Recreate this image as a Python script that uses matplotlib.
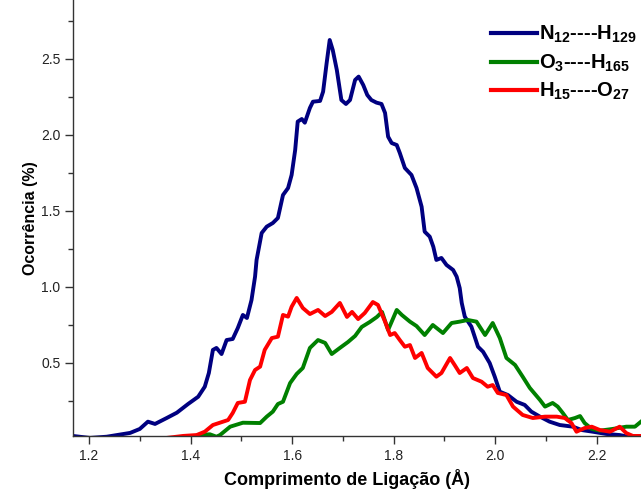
import matplotlib
matplotlib.use("Agg")
import matplotlib.pyplot as plt
from matplotlib.ticker import MultipleLocator

plt.rcParams['font.family'] = ['Liberation Sans', 'DejaVu Sans']
plt.rcParams['mathtext.fontset'] = 'custom'
plt.rcParams['mathtext.rm'] = 'Liberation Sans:bold'
plt.rcParams['mathtext.bf'] = 'Liberation Sans:bold'
plt.rcParams['mathtext.default'] = 'bf'

# N12----H129 (blue)
x_n12 = [1.168, 1.202, 1.235, 1.281, 1.300, 1.316, 1.330, 1.353, 1.373, 1.395, 1.415, 1.428,
         1.436, 1.444, 1.451, 1.461, 1.471, 1.483, 1.493, 1.503, 1.511, 1.520, 1.527, 1.530,
         1.540, 1.550, 1.562, 1.572, 1.582, 1.592, 1.599, 1.606, 1.611, 1.619, 1.625, 1.635,
         1.641, 1.655, 1.661, 1.668, 1.674, 1.680, 1.688, 1.697, 1.706, 1.714, 1.724, 1.731,
         1.740, 1.748, 1.756, 1.766, 1.776, 1.783, 1.789, 1.796, 1.806, 1.812, 1.822, 1.835,
         1.845, 1.855, 1.861, 1.871, 1.878, 1.884, 1.894, 1.904, 1.917, 1.924, 1.930, 1.934,
         1.940, 1.953, 1.966, 1.976, 1.989, 1.999, 2.009, 2.025, 2.042, 2.058, 2.071, 2.088,
         2.107, 2.127, 2.153, 2.170, 2.192, 2.219, 2.245, 2.265, 2.287]
y_n12 = [0.020, 0.007, 0.015, 0.040, 0.066, 0.114, 0.099, 0.138, 0.173, 0.230, 0.278, 0.344,
         0.434, 0.586, 0.599, 0.559, 0.651, 0.658, 0.730, 0.816, 0.796, 0.914, 1.068, 1.178,
         1.355, 1.397, 1.421, 1.454, 1.605, 1.651, 1.737, 1.901, 2.088, 2.105, 2.081, 2.178,
         2.219, 2.224, 2.285, 2.474, 2.625, 2.559, 2.428, 2.230, 2.204, 2.230, 2.362, 2.384,
         2.329, 2.263, 2.230, 2.213, 2.204, 2.145, 1.989, 1.947, 1.934, 1.882, 1.783, 1.737,
         1.651, 1.528, 1.364, 1.331, 1.265, 1.178, 1.191, 1.145, 1.112, 1.068, 0.993, 0.895,
         0.805, 0.739, 0.607, 0.574, 0.500, 0.410, 0.311, 0.289, 0.245, 0.224, 0.180, 0.147,
         0.114, 0.092, 0.081, 0.059, 0.048, 0.033, 0.026, 0.013, 0.007]

# O3----H165 (green)
x_o3 = [1.400, 1.415, 1.438, 1.451, 1.458, 1.478, 1.503, 1.537, 1.550, 1.562, 1.572, 1.582,
        1.596, 1.609, 1.621, 1.635, 1.651, 1.665, 1.678, 1.694, 1.710, 1.724, 1.737, 1.753,
        1.767, 1.777, 1.789, 1.806, 1.816, 1.832, 1.845, 1.861, 1.877, 1.897, 1.914, 1.930,
        1.946, 1.963, 1.980, 1.995, 2.009, 2.022, 2.039, 2.054, 2.068, 2.088, 2.098, 2.113,
        2.123, 2.133, 2.143, 2.157, 2.167, 2.176, 2.190, 2.206, 2.231, 2.258, 2.275, 2.287]
y_o3 = [0.005, 0.026, 0.031, 0.015, 0.026, 0.081, 0.107, 0.105, 0.147, 0.180, 0.230, 0.245,
        0.368, 0.428, 0.467, 0.599, 0.651, 0.632, 0.559, 0.599, 0.638, 0.678, 0.737, 0.770,
        0.803, 0.836, 0.717, 0.849, 0.816, 0.772, 0.743, 0.684, 0.750, 0.697, 0.763, 0.772,
        0.783, 0.772, 0.684, 0.763, 0.664, 0.533, 0.487, 0.410, 0.336, 0.257, 0.213, 0.237,
        0.213, 0.171, 0.125, 0.138, 0.151, 0.105, 0.066, 0.055, 0.066, 0.081, 0.081, 0.114]

# H15----O27 (red)
x_h15 = [1.340, 1.353, 1.385, 1.412, 1.428, 1.444, 1.464, 1.474, 1.483, 1.493, 1.507, 1.517,
         1.527, 1.537, 1.546, 1.560, 1.572, 1.582, 1.592, 1.599, 1.609, 1.621, 1.635, 1.651,
         1.665, 1.678, 1.694, 1.708, 1.718, 1.730, 1.743, 1.759, 1.769, 1.783, 1.793, 1.802,
         1.812, 1.822, 1.832, 1.842, 1.855, 1.867, 1.884, 1.894, 1.911, 1.920, 1.930, 1.944,
         1.956, 1.973, 1.985, 1.995, 2.005, 2.022, 2.035, 2.054, 2.074, 2.098, 2.121, 2.137,
         2.150, 2.160, 2.176, 2.190, 2.206, 2.226, 2.245, 2.258, 2.271, 2.287]
y_h15 = [0.005, 0.007, 0.020, 0.026, 0.048, 0.092, 0.114, 0.125, 0.171, 0.237, 0.245, 0.388,
         0.454, 0.476, 0.586, 0.664, 0.673, 0.816, 0.805, 0.870, 0.928, 0.862, 0.822, 0.849,
         0.809, 0.836, 0.895, 0.803, 0.836, 0.789, 0.829, 0.901, 0.882, 0.772, 0.684, 0.697,
         0.651, 0.607, 0.618, 0.533, 0.566, 0.467, 0.410, 0.434, 0.533, 0.487, 0.434, 0.467,
         0.401, 0.377, 0.344, 0.355, 0.303, 0.289, 0.213, 0.158, 0.138, 0.147, 0.147, 0.138,
         0.105, 0.048, 0.072, 0.081, 0.059, 0.048, 0.081, 0.039, 0.020, 0.020]

labels = [r'$N_{12}$----$H_{129}$', r'$O_{3}$----$H_{165}$', r'$H_{15}$----$O_{27}$']
colors = ['#000080', '#008000', '#ff0000']

fig = plt.figure(figsize=(6.41, 4.90), dpi=100)
ax = fig.add_axes([73/641, 54/490, 1 - 73/641, 436/490])

for xs, ys, c, lab in zip([x_n12, x_o3, x_h15], [y_n12, y_o3, y_h15], colors, labels):
    ax.plot(xs, ys, color=c, lw=2.8, label=lab, solid_joinstyle='round')

ax.set_xlim(1.1685, 2.287)
ax.set_ylim(0.0197, 2.888)
ax.xaxis.set_minor_locator(MultipleLocator(0.1))
ax.yaxis.set_minor_locator(MultipleLocator(0.25))
ax.set_yticks([0.5, 1.0, 1.5, 2.0, 2.5])
ax.set_yticklabels(['0.5', '1.0', '1.5', '2.0', '2.5'])
ax.set_xticks([1.2, 1.4, 1.6, 1.8, 2.0, 2.2])
ax.set_xticklabels(['1.2', '1.4', '1.6', '1.8', '2.0', '2.2'])

for s in ['top', 'right']:
    ax.spines[s].set_visible(False)
for s in ['left', 'bottom']:
    ax.spines[s].set_linewidth(1.0)
    ax.spines[s].set_color('#333333')

ax.tick_params(which='major', direction='out', length=6, width=1.0, color='#333333',
               labelsize=10, labelcolor='#222222', pad=3)
ax.tick_params(which='minor', direction='out', length=3.5, width=1.0, color='#333333')

ax.set_xlabel('Comprimento de Ligação (Å)', fontsize=13, fontweight='bold')
ax.xaxis.set_label_coords(0.482, -0.075)
ax.set_ylabel('Ocorrência (%)', fontsize=11.5, fontweight='bold', labelpad=2)

leg = ax.legend(loc='upper right', bbox_to_anchor=(1.01, 0.968), frameon=False,
                prop={'size': 14.5, 'weight': 'bold'},
                handlelength=2.3, handletextpad=0.1, labelspacing=0.36, borderaxespad=0.1)
for line in leg.get_lines():
    line.set_linewidth(3.0)

fig.savefig('out.png', dpi=100)
